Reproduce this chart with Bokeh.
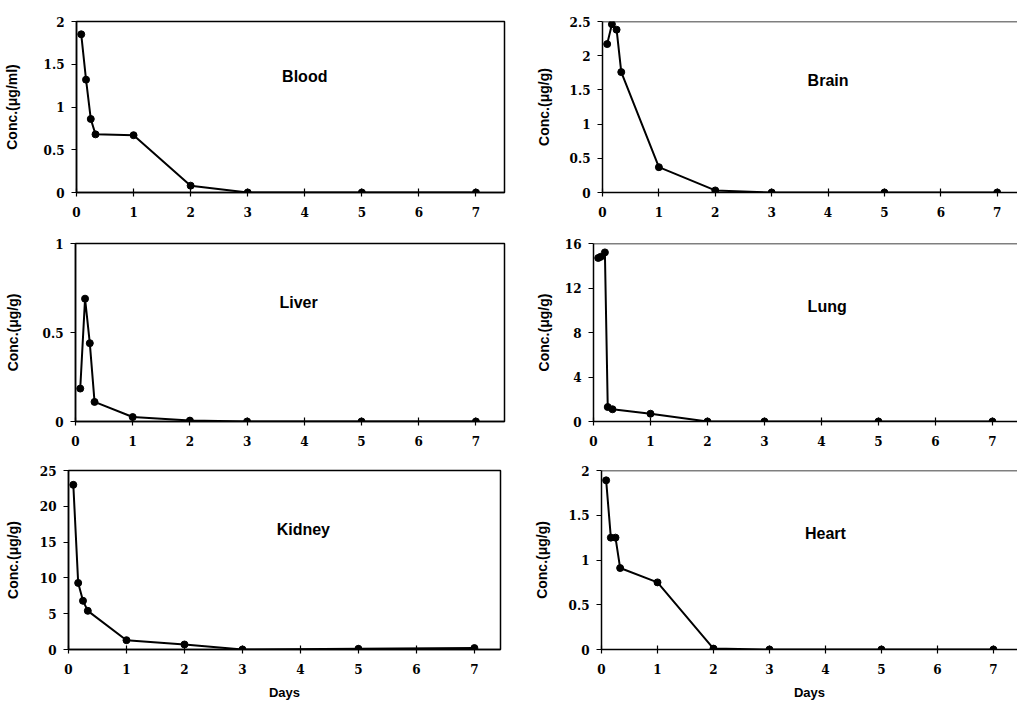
from bokeh.plotting import figure
from bokeh.layouts import row, column
from bokeh.models import Range1d, FixedTicker, Label, Span
from bokeh.embed import file_html
from bokeh.resources import INLINE

# ---- data (days after dosing, concentrations) ----
days = [0.083, 0.167, 0.25, 0.333, 1, 2, 3, 5, 7]
blood = [1.85, 1.32, 0.86, 0.68, 0.67, 0.08, 0.0, 0.0, 0.0]
brain = [2.17, 2.46, 2.38, 1.76, 0.37, 0.03, 0.0, 0.0, 0.0]
liver = [0.185, 0.69, 0.44, 0.11, 0.025, 0.005, 0.0, 0.0, 0.0]
lung_days = [0.083, 0.125, 0.2, 0.25, 0.333, 1, 2, 3, 5, 7]
lung = [14.7, 14.8, 15.2, 1.3, 1.1, 0.7, 0.0, 0.0, 0.0, 0.0]
kidney = [23.0, 9.3, 6.8, 5.4, 1.3, 0.7, 0.0, 0.1, 0.2]
heart = [1.89, 1.25, 1.25, 0.91, 0.75, 0.01, 0.0, 0.0, 0.0]

x_ticks = [0, 1, 2, 3, 4, 5, 6, 7]
blood_ticks = [0, 0.5, 1, 1.5, 2]
brain_ticks = [0, 0.5, 1, 1.5, 2, 2.5]
liver_ticks = [0, 0.5, 1]
lung_ticks = [0, 4, 8, 12, 16]
kidney_ticks = [0, 5, 10, 15, 20, 25]
heart_ticks = [0, 0.5, 1, 1.5, 2]

TICK_FONT = "DejaVu Serif"
SANS = "Liberation Sans"


def panel(xs, ys, yticks, name, ylabel, *, width, height, bl, br, bt, bb,
          xmax, label_xy, ylab_standoff, right_col, days_label=False):
    ymax = yticks[-1]
    p = figure(width=width, height=height, output_backend="svg",
               toolbar_location=None, tools="",
               x_range=Range1d(0, xmax), y_range=Range1d(0, ymax),
               min_border_left=bl, min_border_right=br,
               min_border_top=bt, min_border_bottom=bb)
    p.background_fill_color = "white"
    p.border_fill_color = "white"
    p.grid.visible = False
    if right_col:
        p.outline_line_color = None
        p.add_layout(Span(location=ymax, dimension="width",
                          line_color="black", line_width=1.5))
    else:
        p.outline_line_color = "black"
        p.outline_line_width = 1.5

    p.xaxis.ticker = FixedTicker(ticks=x_ticks)
    p.yaxis.ticker = FixedTicker(ticks=yticks)
    for ax in (p.xaxis, p.yaxis):
        ax.axis_line_color = "black"
        ax.axis_line_width = 1.5
        ax.major_tick_line_color = "black"
        ax.major_tick_line_width = 1.2
        ax.minor_tick_line_color = None
        ax.major_label_text_font = TICK_FONT
        ax.major_label_text_font_style = "bold"
        ax.major_label_text_font_size = "12px"
        ax.major_label_text_color = "black"
    p.xaxis.major_tick_in = 4
    p.xaxis.major_tick_out = 4
    p.xaxis.major_label_standoff = 10
    p.yaxis.major_tick_in = 0
    p.yaxis.major_tick_out = 5
    p.yaxis.major_label_standoff = 7

    p.yaxis.axis_label = ylabel
    p.yaxis.axis_label_text_font = SANS
    p.yaxis.axis_label_text_font_style = "bold"
    p.yaxis.axis_label_text_font_size = "14px"
    p.yaxis.axis_label_text_color = "black"
    p.yaxis.axis_label_standoff = ylab_standoff

    if days_label:
        p.xaxis.axis_label = "Days"
        p.xaxis.axis_label_text_font = SANS
        p.xaxis.axis_label_text_font_style = "bold"
        p.xaxis.axis_label_text_font_size = "13px"
        p.xaxis.axis_label_text_color = "black"
        p.xaxis.axis_label_standoff = 8

    p.line(xs, ys, line_color="black", line_width=2)
    p.scatter(xs, ys, size=7, marker="circle", fill_color="black",
              line_color="black")

    p.add_layout(Label(x=label_xy[0], y=label_xy[1], text=name,
                       text_font=SANS, text_font_style="bold",
                       text_font_size="16px", text_color="black",
                       text_align="center", text_baseline="middle"))
    return p


p_blood = panel(days, blood, blood_ticks, "Blood", "Conc.(\u03bcg/ml)",
                width=512, height=225, bl=75, br=8, bt=16, bb=33,
                xmax=7.5, label_xy=(4.0, 1.36), ylab_standoff=21,
                right_col=False)
p_brain = panel(days, brain, brain_ticks, "Brain", "Conc.(\u03bcg/g)",
                width=505, height=225, bl=90, br=0, bt=21, bb=28,
                xmax=7.36, label_xy=(4.0, 1.64), ylab_standoff=15,
                right_col=True)
p_liver = panel(days, liver, liver_ticks, "Liver", "Conc.(\u03bcg/g)",
                width=512, height=225, bl=75, br=8, bt=14, bb=29,
                xmax=7.5, label_xy=(3.9, 0.67), ylab_standoff=19,
                right_col=False)
p_lung = panel(lung_days, lung, lung_ticks, "Lung", "Conc.(\u03bcg/g)",
               width=505, height=225, bl=81, br=0, bt=18, bb=29,
               xmax=7.44, label_xy=(4.1, 10.3), ylab_standoff=10,
               right_col=True)
p_kidney = panel(days, kidney, kidney_ticks, "Kidney", "Conc.(\u03bcg/g)",
                 width=512, height=252, bl=68, br=12, bt=20, bb=49,
                 xmax=7.45, label_xy=(4.05, 16.8), ylab_standoff=16,
                 right_col=False, days_label=True)
p_heart = panel(days, heart, heart_ticks, "Heart", "Conc.(\u03bcg/g)",
                width=505, height=252, bl=89, br=0, bt=18, bb=52,
                xmax=7.43, label_xy=(4.0, 1.30), ylab_standoff=16,
                right_col=True, days_label=True)

layout = column(
    row(p_blood, p_brain, spacing=0),
    row(p_liver, p_lung, spacing=0),
    row(p_kidney, p_heart, spacing=0),
    spacing=0,
)

open("out.html", "w").write(file_html(layout, INLINE))
